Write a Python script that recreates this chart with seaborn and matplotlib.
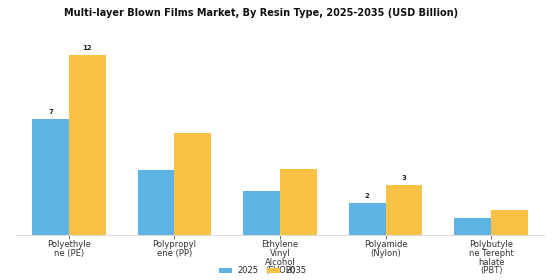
import numpy as np
import pandas as pd
import matplotlib
matplotlib.use("Agg")
import matplotlib.pyplot as plt
import seaborn as sns

# data
resins = ["Polyethyle\nne (PE)", "Polypropyl\nene (PP)", "Ethylene\nVinyl\nAlcohol\n(EVOH)",
          "Polyamide\n(Nylon)", "Polybutyle\nne Terepht\nhalate\n(PBT)"]
vals_2025 = [7.7, 4.3, 2.9, 2.15, 1.1]
vals_2035 = [12.0, 6.8, 4.4, 3.3, 1.65]
labels_2025 = ["7", "", "", "2", ""]
labels_2035 = ["12", "", "", "3", ""]
years = ["2025", "2035"]

df = pd.DataFrame({
    "resin": resins * 2,
    "year": [years[0]] * len(resins) + [years[1]] * len(resins),
    "value": vals_2025 + vals_2035,
})

sns.set_style("white")
plt.rcParams['font.family'] = ['DejaVu Sans']

fig = plt.figure(figsize=(5.6, 2.8), dpi=100)
ax = fig.add_axes([0.029, 0.161, 0.942, 0.675])

sns.barplot(data=df, x="resin", y="value", hue="year", order=resins,
            palette={"2025": "#5DB3E4", "2035": "#F9C146"},
            width=0.7, saturation=1, linewidth=0, ax=ax, legend=True)

ax.bar_label(ax.containers[0], labels=labels_2025, padding=3, fontsize=5, fontweight="bold")
ax.bar_label(ax.containers[1], labels=labels_2035, padding=3, fontsize=5, fontweight="bold")

ax.set_ylim(0, 12.6)
ax.set_xlim(-0.5, 4.5)
ax.set_xlabel("")
ax.set_ylabel("")
ax.set_yticks([])
for s in ["top", "right", "left"]:
    ax.spines[s].set_visible(False)
ax.spines["bottom"].set_color("#dddddd")
ax.spines["bottom"].set_linewidth(0.8)
ax.tick_params(axis="x", length=3, width=0.6, color="#555555", pad=1, bottom=True)
ax.set_xticks(range(len(resins)))
ax.set_xticklabels(resins, fontsize=6, color="#333333", linespacing=0.95)

ax.legend(loc="center", bbox_to_anchor=(0.467, -0.19), ncol=2, frameon=False,
          fontsize=6, handlelength=1.6, handleheight=0.6, columnspacing=1.0,
          handletextpad=0.6)

fig.text(0.467, 0.955, "Multi-layer Blown Films Market, By Resin Type, 2025-2035 (USD Billion)",
         ha="center", va="center", fontsize=7, fontweight="bold", color="#111111")

fig.savefig("out.png", dpi=100)
